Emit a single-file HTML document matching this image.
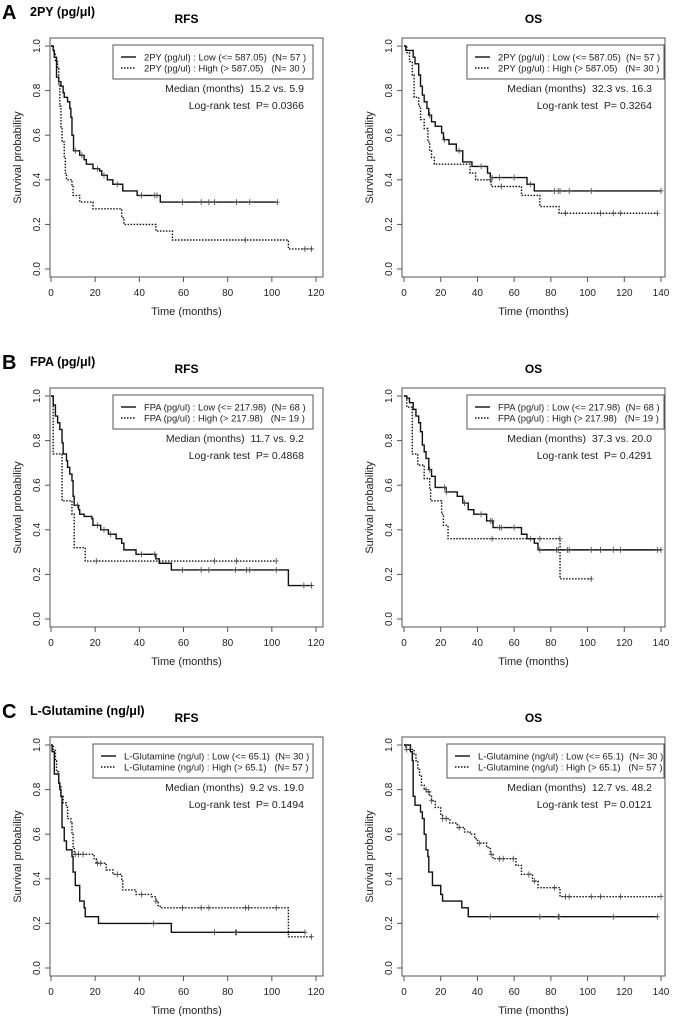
<!DOCTYPE html>
<html><head><meta charset="utf-8"><style>
html,body{margin:0;padding:0;background:#fff;}
svg{display:block;font-family:"Liberation Sans",Arial,sans-serif;}
</style></head><body>
<svg id="fig" width="675" height="1016" viewBox="0 0 675 1016"></svg>
<script>
// ---- Data (time in months, survival probability) ----
const aRfsLowT=[0,1,1.5,2.5,3.5,4.5,5.5,6,7.5,8.5,9,9.5,10.2,13,15,16,19,22,23,25.5,28,32.5,39,49.5];
const aRfsLowS=[1,0.98,0.95,0.86,0.84,0.82,0.79,0.77,0.75,0.72,0.68,0.60,0.53,0.51,0.49,0.47,0.45,0.44,0.42,0.40,0.38,0.35,0.33,0.30];
const aRfsLowC=[11,14,21,24,30,41,47,48,59.5,68,71.5,74,84,90,102.5];
const aRfsHighT=[0,1,2,3,3.5,4,4.5,5,6,6.5,7,9.5,10,13,19,32,33,47.5,55,107.5];
const aRfsHighS=[1,0.97,0.93,0.90,0.83,0.73,0.63,0.57,0.50,0.43,0.40,0.37,0.33,0.30,0.27,0.23,0.20,0.17,0.13,0.09];
const aRfsHighC=[88,115,118];
const aOsLowT=[0,1,5,6,8,9,10,11,12.5,13.5,15,17,20.5,21.5,24.5,28.5,32,37,45.5,47,67,71];
const aOsLowS=[1,0.98,0.95,0.92,0.87,0.82,0.78,0.75,0.72,0.69,0.66,0.64,0.61,0.58,0.56,0.53,0.48,0.46,0.43,0.41,0.38,0.35];
const aOsLowC=[14,22,30,42,48,52,60,69,82,84,85,90,102,140];
const aOsHighT=[0,1.5,3,4.5,5.5,8,9,11,13,14,15,16.5,36,39,47.5,64,74,84.5];
const aOsHighS=[1,0.97,0.93,0.87,0.77,0.73,0.67,0.63,0.57,0.53,0.50,0.47,0.43,0.40,0.37,0.33,0.28,0.25];
const aOsHighC=[47,53,88,107,114,118,138];

const bRfsLowT=[0,1,2,3,4,5,5.5,7,7.5,8.5,9.5,10,10.5,12.5,13,15,18.5,19,22.5,26,29.5,32,33,38.5,47.5,49,54.5,107.5];
const bRfsLowS=[1,0.96,0.91,0.88,0.85,0.79,0.74,0.71,0.68,0.65,0.62,0.55,0.51,0.49,0.47,0.46,0.45,0.42,0.40,0.38,0.36,0.34,0.31,0.29,0.27,0.25,0.22,0.15];
const bRfsLowC=[12,21,24,27,41,47,59.5,68,71.5,83.5,88.5,90,102,114.5,118];
const bRfsHighT=[0,1,5,9.5,10.5,15.5];
const bRfsHighS=[1,0.74,0.53,0.47,0.32,0.26];
const bRfsHighC=[20.5,74,84,102];
const bOsLowT=[0,1.5,3,5,6.5,8,9,10,11,12,13.5,15,17,23,29,32,35,38,45,48.5,64,67,71,73];
const bOsLowS=[1,0.99,0.97,0.94,0.91,0.88,0.84,0.78,0.75,0.72,0.67,0.64,0.59,0.57,0.55,0.52,0.49,0.47,0.44,0.41,0.38,0.36,0.34,0.31];
const bOsLowC=[14,22,23,33,42,47,48,52,53,60,69,74,83,84,89,90,102,107,114,118,138,140];
const bOsHighT=[0,1.5,4.5,7.5,11,14,14.5,20.5,21.5,24,85];
const bOsHighS=[1,0.95,0.74,0.69,0.63,0.58,0.53,0.47,0.42,0.36,0.18];
const bOsHighC=[48,74,84.9,102];

const cRfsLowT=[0,0.5,1.5,3.5,4,4.5,5,6,7,9.5,10,11,13,15,15.5,21.5,54.5];
const cRfsLowS=[1,0.97,0.87,0.83,0.80,0.77,0.63,0.57,0.53,0.50,0.43,0.37,0.30,0.27,0.23,0.20,0.16];
const cRfsLowC=[46.5,74,83.5,84,115];
const cRfsHighT=[0,1,2,2.5,3.5,4.5,5.5,7,7.5,9,9.5,10,10.5,19.5,20.5,25,28,32,32.5,38.5,45.5,47.5,48.5,49.5,107.5];
const cRfsHighS=[1,0.98,0.93,0.88,0.82,0.77,0.74,0.72,0.67,0.65,0.60,0.54,0.51,0.49,0.47,0.44,0.42,0.39,0.35,0.33,0.32,0.30,0.28,0.27,0.14];
const cRfsHighC=[11,12.5,14.5,21,22.5,30,41,47.5,59.5,68,71.5,88,89.5,102,118];
const cOsLowT=[0,3.5,4.5,5,6,9,10,11,12,13,13.5,15.5,20,21,31.5,35];
const cOsLowS=[1,0.97,0.93,0.77,0.73,0.70,0.67,0.60,0.53,0.50,0.43,0.37,0.33,0.30,0.27,0.23];
const cOsLowC=[47,74,84,84.5,114,138];
const cOsHighT=[0,1,5.5,6.5,7.5,8.5,9.5,11,12.5,14,15,17,20,21,25,29,33,36,38.5,40,45,47,48.5,61,64,70,73,85];
const cOsHighS=[1,0.98,0.96,0.93,0.89,0.86,0.82,0.80,0.79,0.77,0.75,0.72,0.69,0.67,0.65,0.63,0.61,0.60,0.58,0.56,0.54,0.51,0.49,0.46,0.42,0.39,0.36,0.32];
const cOsHighC=[1.5,12,13.5,15,21,23,30,41,47.5,52,54,59.5,68,71,82,88,90,102,107,118,140];

const yTicks=[0,0.2,0.4,0.6,0.8,1.0];
const rfsXTicks=[0,20,40,60,80,100,120];
const osXTicks=[0,20,40,60,80,100,120,140];

const NS='http://www.w3.org/2000/svg';
const svg=document.getElementById('fig');
function mk(tag,attrs,parent){const e=document.createElementNS(NS,tag);for(const k in attrs)e.setAttribute(k,attrs[k]);(parent||svg).appendChild(e);return e;}
function txt(s,attrs,parent){const e=mk('text',attrs,parent);e.textContent=s;return e;}

const panels=[
 {letter:'A',sub:'2PY (pg/μl)',dy:0,name:'2PY (pg/ul)',lowLbl:' : Low (<= 587.05)  (N= 57 )',highLbl:' : High (> 587.05)   (N= 30 )',
  rfs:{low:[aRfsLowT,aRfsLowS,aRfsLowC,102.5],high:[aRfsHighT,aRfsHighS,aRfsHighC,118],med:'Median (months)  15.2 vs. 5.9',p:'Log-rank test  P= 0.0366',legX:113},
  os:{low:[aOsLowT,aOsLowS,aOsLowC,140],high:[aOsHighT,aOsHighS,aOsHighC,138],med:'Median (months)  32.3 vs. 16.3',p:'Log-rank test  P= 0.3264',legX:467}},
 {letter:'B',sub:'FPA (pg/μl)',dy:350,name:'FPA (pg/ul)',lowLbl:' : Low (<= 217.98)  (N= 68 )',highLbl:' : High (> 217.98)   (N= 19 )',
  rfs:{low:[bRfsLowT,bRfsLowS,bRfsLowC,118],high:[bRfsHighT,bRfsHighS,bRfsHighC,102],med:'Median (months)  11.7 vs. 9.2',p:'Log-rank test  P= 0.4868',legX:113},
  os:{low:[bOsLowT,bOsLowS,bOsLowC,140],high:[bOsHighT,bOsHighS,bOsHighC,102],med:'Median (months)  37.3 vs. 20.0',p:'Log-rank test  P= 0.4291',legX:467}},
 {letter:'C',sub:'L-Glutamine (ng/μl)',dy:699,name:'L-Glutamine (ng/ul)',lowLbl:' : Low (<= 65.1)  (N= 30 )',highLbl:' : High (> 65.1)   (N= 57 )',
  rfs:{low:[cRfsLowT,cRfsLowS,cRfsLowC,115],high:[cRfsHighT,cRfsHighS,cRfsHighC,118],med:'Median (months)  9.2 vs. 19.0',p:'Log-rank test  P= 0.1494',legX:93},
  os:{low:[cOsLowT,cOsLowS,cOsLowC,138],high:[cOsHighT,cOsHighS,cOsHighC,140],med:'Median (months)  12.7 vs. 48.2',p:'Log-rank test  P= 0.0121',legX:447}}
];

function drawPlot(g,p,cfg,kind,dy){
 const isR=kind==='rfs';
 const x0=isR?51:404, xMax=isR?120:140, xW=isR?265:257;
 const boxL=isR?50:404-2, boxR=isR?323:665;
 const y1=46+dy, y0=269+dy;
 const X=t=>x0+t/xMax*xW;
 const Y=s=>y0-s*(y0-y1);
 const title=txt(isR?'RFS':'OS',{x:(boxL+boxR)/2,y:23+dy,'text-anchor':'middle','font-size':12,'font-weight':'bold'},g);
 
 const box=mk('rect',{x:boxL,y:38+dy,width:boxR-boxL,height:239,fill:'none',stroke:'#555','stroke-width':1},g);
 
 yTicks.forEach(v=>{
  mk('line',{x1:boxL-5,x2:boxL,y1:Y(v),y2:Y(v),stroke:'#555'},g);
  const t=txt(v.toFixed(1),{x:0,y:0,'text-anchor':'middle','font-size':10,fill:'#222',transform:`translate(${boxL-10},${Y(v)}) rotate(-90)`},g);
  
 });
 const yl=txt('Survival probability',{x:0,y:0,'text-anchor':'middle','font-size':11,fill:'#222',transform:`translate(${boxL-29},${(y0+y1)/2}) rotate(-90)`},g);
 
 (isR?rfsXTicks:osXTicks).forEach(v=>{
  mk('line',{x1:X(v),x2:X(v),y1:277+dy,y2:282+dy,stroke:'#555'},g);
  const t=txt(String(v),{x:X(v),y:296+dy,'text-anchor':'middle','font-size':10,fill:'#222'},g);
  
 });
 const xl=txt('Time (months)',{x:(boxL+boxR)/2,y:315+dy,'text-anchor':'middle','font-size':11,fill:'#222'},g);
 
 [['low',cfg.low,null],['high',cfg.high,'1.5,1.5']].forEach(([nm,arr,dash])=>{
  const [T,S,C,end]=arr;
  let d=`M${X(T[0])},${Y(S[0])}`;
  for(let i=1;i<T.length;i++){d+=` H${X(T[i])} V${Y(S[i])}`;}
  d+=` H${X(end)}`;
  const a={d:d,fill:'none',stroke:'#111','stroke-width':1.4};
  if(dash)a['stroke-dasharray']=dash;
  const path=mk('path',a,g);
  
  C.forEach(c=>{
   let s=S[0];for(let i=0;i<T.length;i++){if(T[i]<=c)s=S[i];}
   const cm=mk('path',{d:`M${X(c)},${Y(s)-3}V${Y(s)+3}M${X(c)-2.5},${Y(s)}H${X(c)+2.5}`,stroke:'#444','stroke-width':0.8},g);
   
  });
 });
 const lx=cfg.legX, lr=isR?boxR-10:boxR-1, ly=45+dy;
 const tx=isR?lr-9:lr-12;
 const lg=mk('g',{},g);
 
 mk('rect',{x:lx,y:ly,width:lr-lx,height:34,fill:'#fff',stroke:'#555'},lg);
 mk('line',{x1:lx+8,x2:lx+23,y1:ly+12,y2:ly+12,stroke:'#111','stroke-width':1.4},lg);
 mk('line',{x1:lx+8,x2:lx+23,y1:ly+23,y2:ly+23,stroke:'#111','stroke-width':1.4,'stroke-dasharray':'1.5,1.5'},lg);
 const e1=txt(p.name+p.lowLbl,{x:lx+31,y:ly+15.5,'font-size':9.4,fill:'#222'},lg);
 
 e1.style.whiteSpace='pre';
 const e2=txt(p.name+p.highLbl,{x:lx+31,y:ly+26.5,'font-size':9.4,fill:'#222'},lg);
 
 e2.style.whiteSpace='pre';
 const m=txt(cfg.med,{x:tx,y:92+dy,'text-anchor':'end','font-size':10.5,fill:'#222'},g);
 m.style.whiteSpace='pre';
 const pv=txt(cfg.p,{x:tx,y:109+dy,'text-anchor':'end','font-size':10.5,fill:'#222'},g);
 pv.style.whiteSpace='pre';
}

panels.forEach(p=>{
 const g=mk('g',{});
 
 
 const L=txt(p.letter,{x:2,y:19+p.dy,'font-size':20,'font-weight':'bold'},g);
 
 const S=txt(p.sub,{x:30,y:16+p.dy,'font-size':12.5,'font-weight':'bold'},g);
 
 drawPlot(g,p,p.rfs,'rfs',p.dy);
 drawPlot(g,p,p.os,'os',p.dy);
});
</script>
</body></html>
